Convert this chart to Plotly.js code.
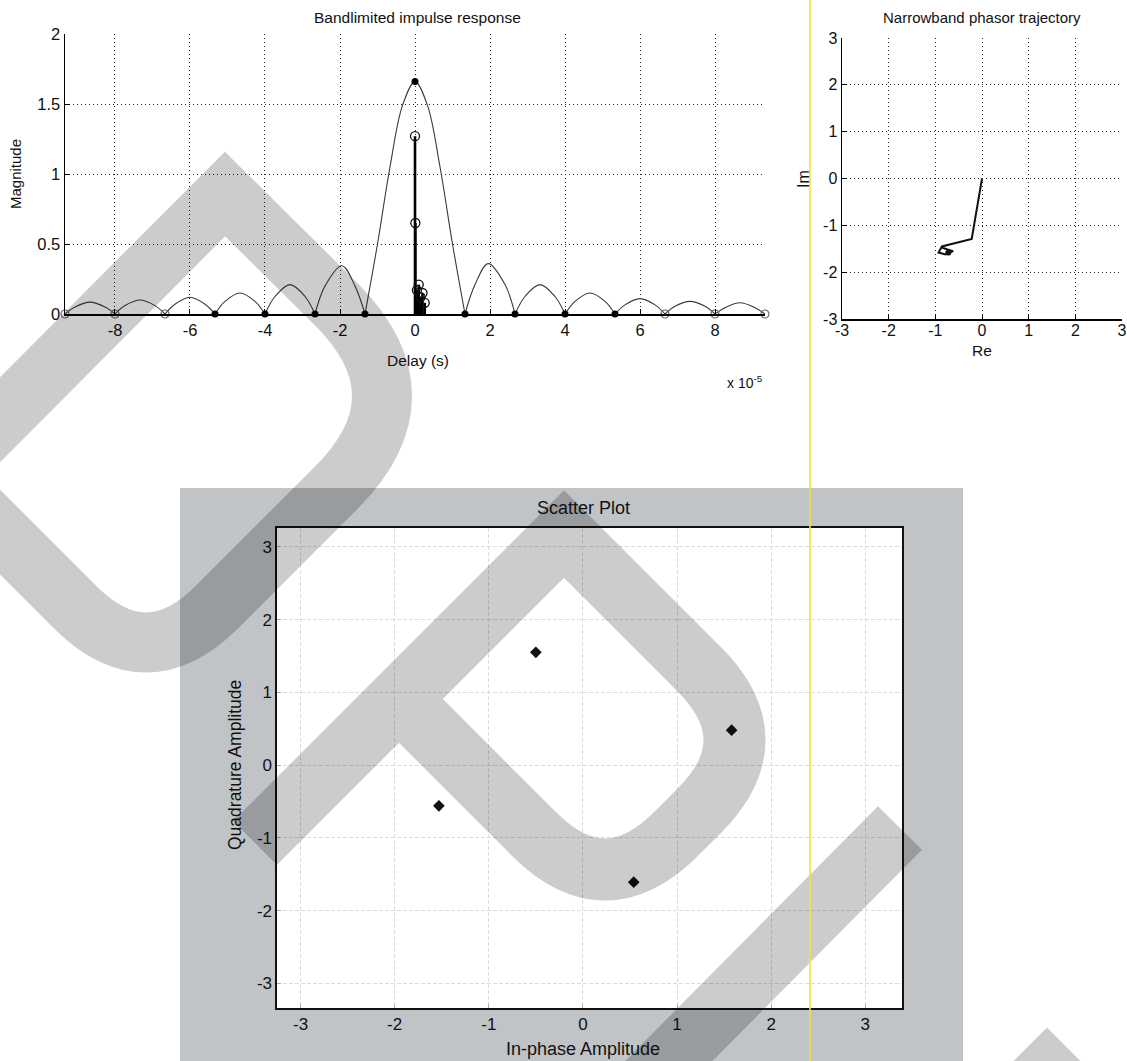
<!DOCTYPE html>
<html>
<head>
<meta charset="utf-8">
<script src="https://cdn.plot.ly/plotly-3.0.1.min.js"></script>
<style>
html,body{margin:0;padding:0;background:#fff;}
#chart{width:1127px;height:1061px;}
</style>
</head>
<body>
<div id="chart"></div>
<script>
// ================= DATA =================
// --- Bandlimited impulse response (delay in units of 1e-5 s) ---
const curveDelay = [
  -9.333,-9.067,-8.667,-8.267,-8,
  -7.733,-7.333,-6.933,-6.667,
  -6.4,-6,-5.6,-5.333,
  -5.067,-4.667,-4.267,-4,
  -3.733,-3.333,-2.933,-2.667,
  -2.4,-1.95,-1.6,-1.333,
  -1,-0.667,-0.333,0,0.333,0.667,1,1.333,
  1.6,1.95,2.4,2.667,
  2.933,3.333,3.733,4,
  4.267,4.667,5.067,5.333,
  5.6,6,6.4,6.667,
  6.933,7.333,7.733,8,
  8.267,8.667,9.067,9.333
];
const curveMag = [
  0,0.05,0.085,0.05,0,
  0.06,0.1,0.06,0,
  0.07,0.12,0.07,0,
  0.09,0.15,0.09,0,
  0.125,0.21,0.125,0,
  0.2,0.345,0.2,0,
  0.5,1.05,1.49,1.66,1.49,1.05,0.5,0,
  0.21,0.36,0.21,0,
  0.125,0.21,0.125,0,
  0.09,0.15,0.09,0,
  0.065,0.11,0.065,0,
  0.055,0.09,0.055,0,
  0.045,0.08,0.045,0
];
const sampleDelay = [-5.333,-4,-2.667,-1.333,0,1.333,2.667,4,5.333];
const sampleMag   = [0,0,0,0,1.66,0,0,0,0];
const edgeSampleDelay = [-9.333,-8,-6.667,6.667,8,9.333];
const edgeSampleMag   = [0,0,0,0,0,0];
const tapDelay = [0, 0.01, 0.1, 0.2, 0.26, 0.05, 0.15];
const tapMag   = [1.27, 0.65, 0.21, 0.15, 0.08, 0.17, 0.12];
const delayTicks = [-8,-6,-4,-2,0,2,4,6,8];
const delayTickText = ['-8','-6','-4','-2','0','2','4','6','8'];
const magTicks   = [0,0.5,1,1.5,2];
const magTickText = ['0','0.5','1','1.5','2'];

// --- Narrowband phasor trajectory ---
const phasorRe = [0, -0.22, -0.86, -0.93, -0.78, -0.62, -0.72, -0.85];
const phasorIm = [0, -1.29, -1.45, -1.58, -1.62, -1.55, -1.52, -1.48];
const phasorEndRe = [-0.72];
const phasorEndIm = [-1.58];
const phasorTicks = [-3,-2,-1,0,1,2,3];
const phasorTickText = ['-3','-2','-1','0','1','2','3'];

// --- Scatter plot ---
const inPhase    = [-0.5, 1.58, -1.53, 0.54];
const quadrature = [1.55, 0.48, -0.56, -1.61];
const scatterTicks = [-3,-2,-1,0,1,2,3];
const scatterTickText = ['-3','-2','-1','0','1','2','3'];

// ================= HELPERS =================
const W = 1127, H = 1061;
const px = v => v / W;
const py = v => 1 - v / H;
function pathPx(str){
  const t = str.trim().split(/\s+/);
  let out = [], isX = true;
  for (const tok of t){
    if (/^[A-Za-z]$/.test(tok)){ out.push(tok); isX = true; }
    else { const n = parseFloat(tok); out.push(isX ? (n/W).toFixed(5) : (1-n/H).toFixed(5)); isX = !isX; }
  }
  return out.join(' ');
}
const FONT = 'Liberation Sans, Arial, Helvetica, sans-serif';

// ================= TRACES =================
const traces = [];
// split the response curve into lobes at its nulls
let seg = {x:[], y:[]};
for (let i = 0; i < curveDelay.length; i++){
  seg.x.push(curveDelay[i]); seg.y.push(curveMag[i]);
  if (curveMag[i] === 0 && seg.x.length > 1){
    traces.push({type:'scatter', mode:'lines', x:seg.x, y:seg.y, xaxis:'x', yaxis:'y',
      line:{color:'#3a3a3a', width:1.1, shape:'spline', smoothing:1}, cliponaxis:false,
      hoverinfo:'skip', showlegend:false});
    seg = {x:[curveDelay[i]], y:[0]};
  }
}
// stems
const stemX = [], stemY = [];
for (let i = 0; i < tapDelay.length; i++){
  stemX.push(tapDelay[i], tapDelay[i], null);
  stemY.push(0, tapMag[i], null);
}
traces.push({type:'scatter', mode:'lines', x:stemX, y:stemY, xaxis:'x', yaxis:'y',
  line:{color:'#000', width:2.6}, hoverinfo:'skip', showlegend:false});
traces.push({type:'scatter', mode:'markers', x:tapDelay, y:tapMag, xaxis:'x', yaxis:'y',
  marker:{symbol:'circle-open', size:9, color:'#111', line:{width:1.3}}, hoverinfo:'skip', showlegend:false});
traces.push({type:'scatter', mode:'markers', x:sampleDelay, y:sampleMag, xaxis:'x', yaxis:'y',
  marker:{symbol:'circle', size:7, color:'#000'}, cliponaxis:false, hoverinfo:'skip', showlegend:false});
traces.push({type:'scatter', mode:'markers', x:edgeSampleDelay, y:edgeSampleMag, xaxis:'x', yaxis:'y',
  marker:{symbol:'circle-open', size:8, color:'#666', line:{width:1.2}}, cliponaxis:false, hoverinfo:'skip', showlegend:false});

// phasor trajectory
traces.push({type:'scatter', mode:'lines', x:phasorRe, y:phasorIm, xaxis:'x2', yaxis:'y2',
  line:{color:'#111', width:2}, hoverinfo:'skip', showlegend:false});
traces.push({type:'scatter', mode:'markers', x:phasorEndRe, y:phasorEndIm, xaxis:'x2', yaxis:'y2',
  marker:{symbol:'circle', size:6, color:'#111'}, hoverinfo:'skip', showlegend:false});

// scatter plot
traces.push({type:'scatter', mode:'markers', x:inPhase, y:quadrature, xaxis:'x3', yaxis:'y3',
  marker:{symbol:'diamond', size:9, color:'#111'}, hoverinfo:'skip', showlegend:false});

// ================= LAYOUT =================
const dotted = {showgrid:true, gridcolor:'#222', gridwidth:1, griddash:'1px,3px', zeroline:false,
  showline:true, linecolor:'#000', ticks:'inside', ticklen:5, tickcolor:'#000',
  tickfont:{family:FONT, size:16.5, color:'#111'}, mirror:false};
const scatterAxis = {showgrid:true, gridcolor:'#dcdcdc', griddash:'4px,2px',
  zeroline:false, showline:true, mirror:true, linecolor:'#111', linewidth:1.6,
  ticks:'inside', ticklen:4, tickcolor:'#aaa', tickfont:{family:FONT, size:17, color:'#111'},
  tickmode:'array', tickvals:scatterTicks, ticktext:scatterTickText};

const layout = {
  width: W, height: H, autosize:false,
  margin:{l:0, r:0, t:0, b:0, pad:0},
  paper_bgcolor:'#ffffff', plot_bgcolor:'rgba(0,0,0,0)',
  font:{family:FONT, color:'#111'},
  showlegend:false, hovermode:false,
  xaxis: Object.assign({}, dotted, {domain:[px(65), px(765)], range:[-9.333, 9.333], anchor:'y',
    tickmode:'array', tickvals:delayTicks, ticktext:delayTickText, linewidth:2}),
  yaxis: Object.assign({}, dotted, {domain:[py(314), py(34)], range:[0, 2], anchor:'x',
    tickmode:'array', tickvals:magTicks, ticktext:magTickText, linewidth:1.5}),
  xaxis2: Object.assign({}, dotted, {domain:[px(842), px(1122)], range:[-3, 3], anchor:'y2',
    tickmode:'array', tickvals:phasorTicks, ticktext:phasorTickText, linewidth:1.8,
    ticklabelstandoff:-4, tickfont:{family:FONT, size:16, color:'#111'}}),
  yaxis2: Object.assign({}, dotted, {domain:[py(319), py(38)], range:[-3, 3], anchor:'x2',
    tickmode:'array', tickvals:phasorTicks, ticktext:phasorTickText, linewidth:1.5,
    tickfont:{family:FONT, size:16, color:'#111'}}),
  xaxis3: Object.assign({}, scatterAxis, {domain:[px(277), px(902)], range:[-3.25, 3.39], anchor:'y3'}),
  yaxis3: Object.assign({}, scatterAxis, {domain:[py(1008), py(528)], range:[-3.34, 3.26], anchor:'x3'}),
  annotations: [
    {text:'Bandlimited impulse response', x:px(417), y:py(17), font:{size:15.5}},
    {text:'Magnitude', x:px(15), y:py(174), textangle:-90, font:{size:15}},
    {text:'Delay (s)', x:px(418), y:py(360), font:{size:15.5}},
    {text:'x 10<sup>-5</sup>', x:px(745), y:py(382), font:{size:14}},
    {text:'Narrowband phasor trajectory', x:px(982), y:py(17), font:{size:15}},
    {text:'Im', x:px(803), y:py(179), textangle:-90, font:{size:16}},
    {text:'Re', x:px(982), y:py(350), font:{size:15.5}},
    {text:'Scatter Plot', x:px(583), y:py(508), font:{size:18}},
    {text:'Quadrature Amplitude', x:px(235), y:py(765), textangle:-90, font:{size:17.5}},
    {text:'In-phase Amplitude', x:px(583), y:py(1049), font:{size:18}}
  ].map(a => Object.assign({xref:'paper', yref:'paper', showarrow:false, xanchor:'center', yanchor:'middle'}, a,
        {font:Object.assign({family:FONT, color:'#111'}, a.font)})),
  shapes: [
    // grey figure background of the scatter plot window
    {type:'rect', xref:'paper', yref:'paper', x0:px(180), x1:px(963), y0:0, y1:py(488),
      fillcolor:'#c0c4c6', line:{width:0}, layer:'below'},
    // white axes area of the scatter plot
    {type:'rect', xref:'x3 domain', yref:'y3 domain', x0:0, x1:1, y0:0, y1:1,
      fillcolor:'#ffffff', line:{width:0}, layer:'below'},
    // watermark strokes of the scanned page
    {type:'path', xref:'paper', yref:'paper', layer:'above', fillcolor:'rgba(0,0,0,0)',
      path:pathPx('M -56 476 L 225 194 L 336 304 Q 428 396 336 488 L 217 607 Q 146 678 75 607 Z'),
      line:{color:'rgba(0,0,0,0.2)', width:60}},
    {type:'path', xref:'paper', yref:'paper', layer:'above', fillcolor:'rgba(0,0,0,0)',
      path:pathPx('M 255 843 L 564 534 L 699 669 Q 770 740 699 811 L 676 834 Q 605 905 534 834 L 399 699'),
      line:{color:'rgba(0,0,0,0.2)', width:62}},
    {type:'path', xref:'paper', yref:'paper', layer:'above', fillcolor:'rgba(0,0,0,0)',
      path:pathPx('M 900 828 L 645 1085'),
      line:{color:'rgba(0,0,0,0.2)', width:62}},
    {type:'path', xref:'paper', yref:'paper', layer:'above', fillcolor:'rgba(0,0,0,0)',
      path:pathPx('M 990 1127 L 1047 1070 L 1104 1127'),
      line:{color:'rgba(0,0,0,0.2)', width:60}},
    // yellow scan line
    {type:'line', xref:'paper', yref:'paper', x0:px(810), x1:px(810), y0:0, y1:1,
      line:{color:'rgba(238,228,60,0.8)', width:2}, layer:'above'}
  ]
};

Plotly.newPlot('chart', traces, layout, {staticPlot:true, displayModeBar:false});
</script>
</body>
</html>
